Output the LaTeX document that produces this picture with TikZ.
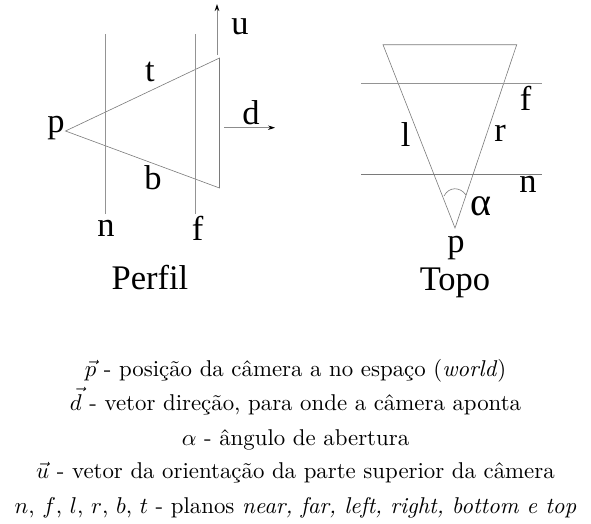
\documentclass[tikz,border=0pt]{standalone}
\usepackage{fontspec}
\newfontfamily\labfont{Liberation Serif}
\usetikzlibrary{arrows.meta}
\tikzset{
  plane/.style={draw=black!42,line width=0.9pt},
  edgeline/.style={draw=black!52,line width=0.6pt},
  axisline/.style={draw=black!45,line width=0.8pt,-{Stealth[length=7pt,width=4.5pt,black]}},
  lab/.style={anchor=base,inner sep=0pt,font=\labfont\fontsize{34.5}{36}\selectfont},
  legend/.style={anchor=base,inner sep=0pt,transform shape,scale=2.284}
}
\begin{document}
\begin{tikzpicture}[x=1pt,y=-1pt]
\useasboundingbox (0,0) rectangle (591,523);
% Perfil
\coordinate (pa) at (65.5,131);
\coordinate (pt) at (219.5,58);
\coordinate (pb) at (219.5,188);
\coordinate (na) at (105.5,34);
\coordinate (nb) at (105.5,214);
\coordinate (fa) at (195.7,34);
\coordinate (fb) at (195.7,214);
\coordinate (ua) at (217,55);
\coordinate (ub) at (217,4);
\coordinate (da) at (224,127.7);
\coordinate (db) at (275,127.7);
\draw[edgeline] (pa) -- (pt) -- (pb) -- cycle;
\draw[plane] (na) -- (nb);
\draw[plane] (fa) -- (fb);
\draw[axisline] (ua) -- (ub);
\draw[axisline] (da) -- (db);
\node[lab] (lu) at (240,34) {u};
\node[lab] (ld) at (251,124) {d};
\node[lab] (lp) at (56,132) {p};
\node[lab] (lt) at (150,81) {t};
\node[lab] (lb) at (153,189) {b};
\node[lab] (ln) at (106,236) {n};
\node[lab] (lf) at (197.7,240) {f};
\node[lab] (perfil) at (150,289) {Perfil};
% Topo
\coordinate (ta) at (383,44.7);
\coordinate (tb) at (516.7,44.7);
\coordinate (tp) at (455,228);
\coordinate (f1) at (361,83.7);
\coordinate (f2) at (542,83.7);
\coordinate (n1) at (361,174.3);
\coordinate (n2) at (542,174.3);
\coordinate (a1) at (444,196);
\coordinate (a2) at (466,195);
\draw[edgeline] (ta) -- (tb) -- (tp) -- cycle;
\draw[plane] (f1) -- (f2);
\draw[edgeline] (n1) -- (n2);
\draw[edgeline] (a1) .. controls (449,186.5) and (460,186.5) .. (a2);
\node[lab] (rf) at (525.7,110) {f};
\node[lab] (rl) at (405.7,146) {l};
\node[lab] (rr) at (500,141.7) {r};
\node[lab] (rn) at (528,192.7) {n};
\node[lab,font=\labfont\fontsize{40}{42}\selectfont] (ralpha) at (480.7,215) {α};
\node[lab] (rp) at (456,252) {p};
\node[lab] (topo) at (455,290) {Topo};
% Legenda
\node[legend] (c1) at (295.5,376) {$\vec{p}$ - posição da câmera a no espaço (\textit{world})};
\node[legend] (c2) at (295.5,410) {$\vec{d}$ - vetor direção, para onde a câmera aponta};
\node[legend] (c3) at (295.5,445) {$\alpha$ - ângulo de abertura};
\node[legend] (c4) at (295.5,478) {$\vec{u}$ - vetor da orientação da parte superior da câmera};
\node[legend] (c5) at (295.5,513) {$n$, $f$, $l$, $r$, $b$, $t$ - planos \textit{near, far, left, right, bottom e top}};
\end{tikzpicture}
\end{document}
